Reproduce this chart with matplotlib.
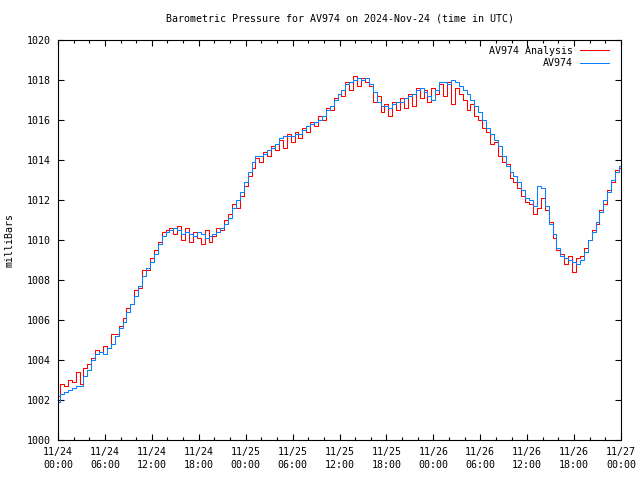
import matplotlib
matplotlib.use("Agg")
import matplotlib.pyplot as plt

# hours since 2024-11-24 00:00 UTC, half-hour steps
hours = [i * 0.5 for i in range(145)]

analysis = [
    1002.2, 1002.8, 1002.7, 1003.0, 1002.9, 1003.4, 1002.8, 1003.6, 1003.8, 1004.1,
    1004.5, 1004.4, 1004.7, 1004.6, 1005.3, 1005.3, 1005.7, 1006.1, 1006.6, 1006.8,
    1007.5, 1007.6, 1008.5, 1008.5, 1009.1, 1009.5, 1009.9, 1010.4, 1010.5, 1010.6,
    1010.3, 1010.7, 1010.0, 1010.6, 1009.9, 1010.4, 1010.1, 1009.8, 1010.5, 1009.9,
    1010.2, 1010.6, 1010.5, 1011.0, 1011.3, 1011.8, 1011.6, 1012.2, 1012.7, 1013.2,
    1013.6, 1014.1, 1013.9, 1014.4, 1014.2, 1014.7, 1014.5, 1015.0, 1014.6, 1015.3,
    1014.9, 1015.4, 1015.1, 1015.6, 1015.4, 1015.9, 1015.7, 1016.2, 1016.0, 1016.6,
    1016.5, 1017.1, 1017.3, 1017.2, 1017.9, 1017.5, 1018.2, 1017.7, 1018.1, 1017.9,
    1017.7, 1016.9, 1017.2, 1016.4, 1016.8, 1016.2, 1016.9, 1016.5, 1017.1, 1016.6,
    1017.3, 1016.7, 1017.6, 1017.1, 1017.5, 1016.9, 1017.6, 1017.3, 1017.8, 1017.2,
    1017.9, 1016.8, 1017.6, 1017.3, 1017.0, 1016.5, 1016.8, 1016.2, 1016.0, 1015.6,
    1015.4, 1014.8, 1014.9, 1014.2, 1013.9, 1013.8, 1013.1, 1012.9, 1012.6, 1012.2,
    1011.9, 1011.8, 1011.3, 1011.6, 1012.1, 1011.5, 1010.9, 1010.1, 1009.5, 1009.3,
    1008.8, 1009.2, 1008.4, 1009.1, 1009.2, 1009.6, 1010.0, 1010.5, 1010.8, 1011.5,
    1011.8, 1012.5, 1012.9, 1013.5, 1013.6,
]

station = [
    1001.9, 1002.3, 1002.4, 1002.5, 1002.6, 1002.7, 1002.7, 1003.2, 1003.5, 1004.0,
    1004.3, 1004.4, 1004.3, 1004.6, 1004.8, 1005.2, 1005.6, 1005.9, 1006.4, 1006.8,
    1007.2, 1007.7, 1008.2, 1008.6, 1008.9, 1009.3, 1009.8, 1010.2, 1010.4, 1010.5,
    1010.6, 1010.5, 1010.3, 1010.4, 1010.3, 1010.2, 1010.4, 1010.3, 1010.1, 1010.2,
    1010.3, 1010.4, 1010.6, 1010.8, 1011.1, 1011.6, 1012.0, 1012.4, 1012.9, 1013.4,
    1013.9, 1014.2, 1014.2, 1014.3, 1014.5, 1014.6, 1014.8, 1015.1, 1015.2, 1015.2,
    1015.2, 1015.3, 1015.3, 1015.5, 1015.7, 1015.8, 1015.9, 1016.0, 1016.2, 1016.5,
    1016.7, 1017.0, 1017.3, 1017.5, 1017.8, 1017.9, 1018.0, 1018.1, 1018.0, 1018.1,
    1017.8, 1017.4, 1016.9, 1016.7, 1016.7, 1016.6, 1016.8, 1016.9, 1016.9, 1017.1,
    1017.2, 1017.3, 1017.5, 1017.6, 1017.4, 1017.2, 1017.0, 1017.5, 1017.9, 1017.9,
    1017.8, 1018.0, 1017.9, 1017.7, 1017.5, 1017.3, 1017.0, 1016.7, 1016.4, 1016.0,
    1015.6, 1015.3, 1015.0, 1014.7, 1014.2, 1013.7, 1013.4, 1013.2, 1012.9, 1012.5,
    1012.1, 1012.0, 1011.7, 1012.7, 1012.6, 1011.7, 1010.8, 1010.3, 1009.6, 1009.2,
    1009.1, 1009.0, 1008.9, 1008.8, 1009.0, 1009.4, 1010.0, 1010.4, 1010.9, 1011.4,
    1012.0, 1012.4, 1013.0, 1013.4, 1013.7,
]

tick_hours = list(range(0, 73, 6))
tick_labels = ["11/24\n00:00", "11/24\n06:00", "11/24\n12:00", "11/24\n18:00",
               "11/25\n00:00", "11/25\n06:00", "11/25\n12:00", "11/25\n18:00",
               "11/26\n00:00", "11/26\n06:00", "11/26\n12:00", "11/26\n18:00",
               "11/27\n00:00"]

plt.rcParams['font.family'] = ['DejaVu Sans Mono']
plt.rcParams['font.size'] = 7.2

fig = plt.figure(figsize=(6.4, 4.8), dpi=100)
ax = fig.add_axes([58 / 640, 40 / 480, 563 / 640, 400 / 480])

ax.plot(hours, analysis, color='#ff0000', linewidth=0.75, drawstyle='steps-mid',
        label='AV974 Analysis')
ax.plot(hours, station, color='#0a80ff', linewidth=0.75, drawstyle='steps-mid',
        label='AV974')

ax.set_xlim(0, 72)
ax.set_ylim(1000, 1020)
ax.set_xticks(tick_hours)
ax.set_xticklabels(tick_labels, linespacing=1.35)
ax.set_xticks(range(0, 73, 2), minor=True)
ax.set_yticks(range(1000, 1021, 2))

ax.tick_params(which='both', direction='in', top=True, right=True, width=0.8)
ax.tick_params(which='major', length=4, pad=5)
ax.tick_params(which='minor', length=2)
for s in ax.spines.values():
    s.set_linewidth(0.8)

ax.set_ylabel('milliBars', labelpad=9)
ax.set_title('Barometric Pressure for AV974 on 2024-Nov-24 (time in UTC)',
             fontsize=7.2, pad=13)

leg = ax.legend(loc='upper right', bbox_to_anchor=(1 - 6 / 563, 1), frameon=False,
                markerfirst=False, handlelength=2.9, borderaxespad=0.2,
                labelspacing=0.25, handletextpad=0.7)

fig.savefig('out.png', dpi=100)
